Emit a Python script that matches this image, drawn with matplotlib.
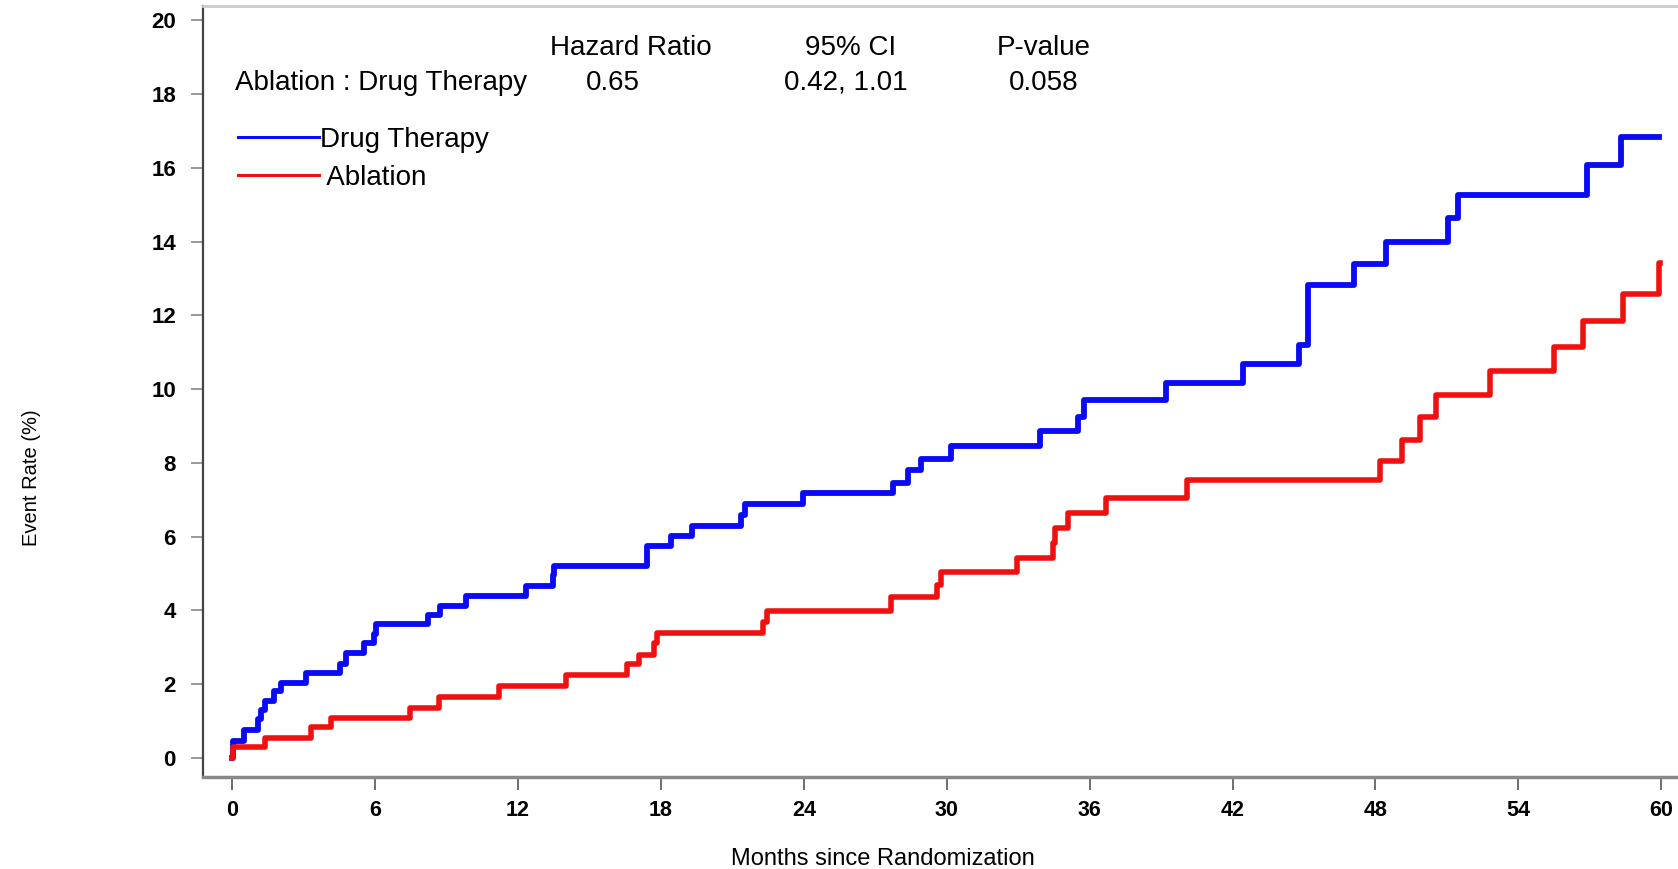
import matplotlib
matplotlib.use("Agg")
import matplotlib.pyplot as plt

plt.rcParams['font.family'] = ['Liberation Sans', 'DejaVu Sans']

# Kaplan-Meier style cumulative event rate (%)
drug_t = [0, 0.04, 0.49, 1.10, 1.20, 1.38, 1.75, 2.04, 3.10, 4.53, 4.80, 5.55, 5.96, 6.04,
          8.22, 8.74, 9.84, 12.32, 13.46, 13.52, 17.40, 18.43, 19.29, 21.35, 21.55,
          23.98, 27.76, 28.37, 28.90, 30.16, 33.90, 35.50, 35.75, 39.20, 42.45, 44.80,
          45.15, 47.10, 48.45, 51.05, 51.45, 56.90, 58.30, 59.90]
drug_y = [0, 0.45, 0.75, 1.05, 1.30, 1.55, 1.80, 2.03, 2.30, 2.55, 2.83, 3.10, 3.35, 3.62,
          3.87, 4.12, 4.39, 4.65, 4.95, 5.20, 5.74, 6.02, 6.29, 6.59, 6.89,
          7.17, 7.46, 7.81, 8.10, 8.46, 8.87, 9.25, 9.71, 10.16, 10.67, 11.20,
          12.83, 13.40, 14.00, 14.64, 15.27, 16.07, 16.85, 16.85]

abl_t = [0, 0.04, 1.38, 3.30, 4.16, 7.47, 8.70, 11.20, 14.00, 16.57, 17.10, 17.70, 17.84,
         22.30, 22.45, 27.68, 29.60, 29.77, 32.93, 34.45, 34.55, 35.10, 36.70, 40.08,
         48.20, 49.10, 49.85, 50.55, 52.80, 55.50, 56.70, 58.40, 59.90, 59.95]
abl_y = [0, 0.28, 0.54, 0.82, 1.07, 1.35, 1.65, 1.94, 2.24, 2.53, 2.80, 3.10, 3.39,
         3.69, 3.99, 4.35, 4.69, 5.05, 5.41, 5.82, 6.22, 6.63, 7.04, 7.54,
         8.05, 8.62, 9.23, 9.84, 10.48, 11.14, 11.86, 12.58, 13.42, 13.42]

x_ticks = list(range(0, 61, 6))
y_ticks = list(range(0, 21, 2))

header = ["Hazard Ratio", "95% CI", "P-value"]
row = ["Ablation : Drug Therapy", "0.65", "0.42, 1.01", "0.058"]

BLUE = '#0a0af5'
RED = '#f01010'

fig = plt.figure(figsize=(16.78, 8.69), dpi=100)
ax = fig.add_axes([0.121, 0.106, 0.879, 0.887])

l1, = ax.step(drug_t, drug_y, where='post', color=BLUE, lw=4.2, label='Drug Therapy')
l2, = ax.step(abl_t, abl_y, where='post', color=RED, lw=4.0, label=' Ablation')

ax.set_xlim(-1.22, 60.7)
ax.set_ylim(-0.52, 20.39)
ax.set_xticks(x_ticks)
ax.set_yticks(y_ticks)
ax.tick_params(axis='y', length=9, width=1.2, pad=10.5, color='#888888', labelsize=16)
ax.tick_params(axis='x', length=9, width=1.2, pad=7.5, color='#555555', labelsize=15.5)
for lab in ax.get_xticklabels() + ax.get_yticklabels():
    lab.set_fontweight('bold')

ax.spines['right'].set_visible(False)
ax.spines['left'].set_color('#444444')
ax.spines['left'].set_linewidth(1.6)
ax.spines['bottom'].set_color('#888888')
ax.spines['bottom'].set_linewidth(2.5)
ax.spines['top'].set_color('#cccccc')
ax.spines['top'].set_linewidth(2)

ax.set_xlabel('Months since Randomization', fontsize=17, va='center')
ax.xaxis.set_label_coords(0.461, -0.106)
ax.set_ylabel('Event Rate (%)', fontsize=14.5, va='center')
ax.yaxis.set_label_coords(-0.1165, 0.388)

# hazard ratio table
hx = [0.376, 0.507, 0.622]
for x, s in zip(hx, header):
    fig.text(x, 0.945, s, ha='center', va='center', fontsize=20)
rx = [0.140, 0.349, 0.467, 0.601]
for x, s in zip(rx, row):
    fig.text(x, 0.905, s, ha='left', va='center', fontsize=20)

leg = ax.legend(handles=[l1, l2], loc='upper left', bbox_to_anchor=(238 / 1678, 1 - 127 / 869),
                bbox_transform=fig.transFigure, frameon=False, fontsize=20,
                handlelength=2.9, handletextpad=0.05, labelspacing=0.42,
                borderpad=0, borderaxespad=0)
for h in leg.legend_handles:
    h.set_linewidth(2.2)

fig.savefig('out.png', dpi=100)
